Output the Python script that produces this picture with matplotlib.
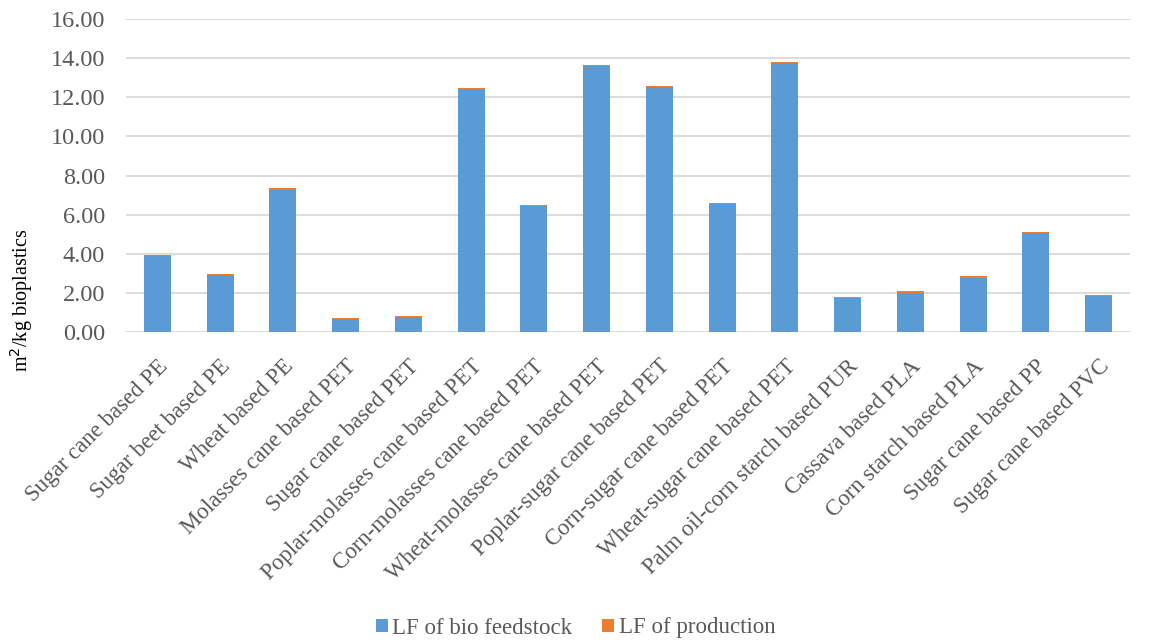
import matplotlib.pyplot as plt
import numpy as np

plt.rcParams['font.family'] = ['Liberation Serif', 'DejaVu Serif']

categories = ["Sugar cane based PE", "Sugar beet based PE", "Wheat based PE",
              "Molasses cane based PET", "Sugar cane based PET",
              "Poplar-molasses cane based PET", "Corn-molasses cane based PET",
              "Wheat-molasses cane based PET", "Poplar-sugar cane based PET",
              "Corn-sugar cane based PET", "Wheat-sugar cane based PET",
              "Palm oil-corn starch based PUR", "Cassava based PLA",
              "Corn starch based PLA", "Sugar cane based PP", "Sugar cane based PVC"]
feedstock = [3.88, 2.90, 7.25, 0.65, 0.78, 12.40, 6.44, 13.62, 12.50, 6.53,
             13.73, 1.72, 2.00, 2.74, 5.08, 1.82]
production = [0.04, 0.08, 0.10, 0.06, 0.05, 0.07, 0.05, 0.05, 0.07, 0.05,
              0.05, 0.05, 0.10, 0.10, 0.05, 0.08]

grey = "#595959"
fig = plt.figure(figsize=(11.51, 6.43), dpi=100)
ax = fig.add_axes([126/1151, 1 - 332/643, (1130-126)/1151, (332-19)/643])

x = np.arange(len(categories))
ax.bar(x, feedstock, width=0.43, color="#5B9BD5", label="LF of bio feedstock", zorder=3)
ax.bar(x, production, width=0.43, bottom=feedstock, color="#ED7D31",
       label="LF of production", zorder=3)

ax.set_ylim(0, 16)
ax.set_xlim(-0.5, len(categories) - 0.5)
ax.set_yticks(np.arange(0, 17, 2))
ax.set_yticklabels([f"{v:.2f}" for v in np.arange(0, 17, 2)], fontsize=17.5, color=grey)
ax.set_xticks(x)
ax.set_xticklabels(categories, rotation=45, ha="right", rotation_mode="anchor",
                   fontsize=16.5, color=grey)
ax.tick_params(axis="y", length=0, pad=15)
ax.tick_params(axis="x", length=0, pad=17)
ax.yaxis.grid(True, color="#D9D9D9", linewidth=1.3, zorder=0)
for s in ax.spines.values():
    s.set_visible(False)
ax.set_ylabel("m$^2$/kg bioplastics", fontsize=14.5, color="black")
ax.yaxis.set_label_coords(-0.0906, 0.10)

fig.legend(loc="center", bbox_to_anchor=(0.5, 1 - 628/643), ncol=2, frameon=False,
           fontsize=16.5, labelcolor=grey, handlelength=0.52, handleheight=0.52,
           handletextpad=0.2, columnspacing=1.3)

fig.savefig("out.png", dpi=100)
